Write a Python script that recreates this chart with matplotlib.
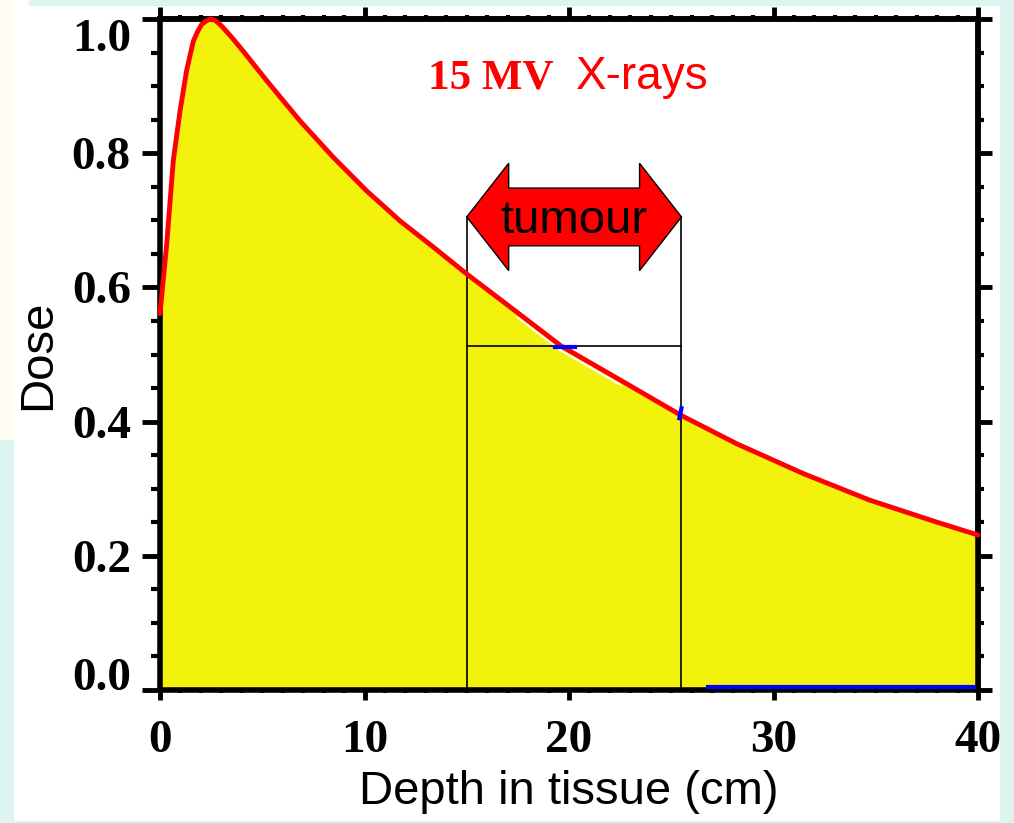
import matplotlib
matplotlib.use('Agg')
import matplotlib.pyplot as plt
from matplotlib.patches import Rectangle, Polygon
from matplotlib.ticker import MultipleLocator, FormatStrFormatter

plt.rcParams['font.family'] = ['Liberation Sans', 'DejaVu Sans']

# depth-dose curve
depth_cm = [0.0, 0.33, 0.65, 0.98, 1.3, 1.63, 1.85, 2.04, 2.25, 2.44, 2.7, 3.0, 3.5,
            4.07, 5.22, 6.85, 8.47, 10.1, 11.74, 13.37, 15.0, 17.5, 19.6, 22.5,
            25.5, 28.2, 31.5, 34.7, 38.0, 40.0]
dose = [0.561, 0.665, 0.789, 0.863, 0.923, 0.967, 0.982, 0.992, 0.997, 1.0, 0.998, 0.990, 0.973,
        0.952, 0.908, 0.848, 0.794, 0.744, 0.699, 0.660, 0.620, 0.562, 0.513, 0.462,
        0.409, 0.367, 0.322, 0.283, 0.250, 0.231]

tumour_start, tumour_end = 15.0, 25.5
tumour_top = 0.705
tumour_dose_level = 0.512
blue_span = [26.8, 39.8]
blue_marks_x = [[19.3, 20.3], [25.4, 25.5]]
blue_marks_y = [[0.511, 0.511], [0.405, 0.42]]

x_ticks = [0, 10, 20, 30, 40]
y_ticks = [0.0, 0.2, 0.4, 0.6, 0.8, 1.0]

W, H = 1014, 823
fig = plt.figure(figsize=(W / 100, H / 100), dpi=100, facecolor='#ddf4f1')


def px_rect(x0, y0, x1, y1, color):
    # rectangle given in picture pixels (origin top-left)
    fig.add_artist(Rectangle((x0 / W, 1 - y1 / H), (x1 - x0) / W, (y1 - y0) / H,
                             transform=fig.transFigure, facecolor=color,
                             edgecolor='none', zorder=-10))


px_rect(14, 6, 1000, 821, 'white')
px_rect(0, 0, 14, 440, '#fffcf2')
px_rect(14, 0, 29, 6, 'white')

ax = fig.add_axes([160 / W, 1 - 690 / H, (978 - 160) / W, (690 - 19) / H])
ax.set_facecolor('white')
ax.set_xlim(0, 40)
ax.set_ylim(0, 1.0)

ax.fill_between(depth_cm, 0, dose, color='#f2f20c', lw=0, zorder=1)

# thin white sliver under the curve across the tumour
seg = [i for i, d in enumerate(depth_cm) if tumour_start + 0.3 <= d <= tumour_end - 0.3]
ax.plot([depth_cm[i] for i in seg], [dose[i] - 0.007 for i in seg],
        color='white', lw=1.5, zorder=2)
ax.plot(depth_cm, dose, color='#ff0000', lw=3.5, clip_on=False, zorder=4,
        solid_capstyle='round')

# tumour region
for xv in (tumour_start, tumour_end):
    ax.plot([xv, xv], [0, tumour_top], color='black', lw=1.2, zorder=3)
ax.plot([tumour_start, tumour_end], [tumour_dose_level, tumour_dose_level],
        color='black', lw=1.2, zorder=3)
ax.plot(blue_span, [0.004, 0.004], color='#0000ff', lw=3, clip_on=False, zorder=6)
for bx, by in zip(blue_marks_x, blue_marks_y):
    ax.plot(bx, by, color='#0000ff', lw=3, zorder=4.5)

# double headed arrow
head_len = 2.05
head_half = 0.08
shaft_half = 0.043
xl, xr, yc = tumour_start, tumour_end, tumour_top
arrow_pts = [(xl, yc), (xl + head_len, yc + head_half), (xl + head_len, yc + shaft_half),
             (xr - head_len, yc + shaft_half), (xr - head_len, yc + head_half), (xr, yc),
             (xr - head_len, yc - head_half), (xr - head_len, yc - shaft_half),
             (xl + head_len, yc - shaft_half), (xl + head_len, yc - head_half)]
ax.add_patch(Polygon(arrow_pts, closed=True, facecolor='#ff0000', edgecolor='black',
                     lw=1, zorder=5))
ax.text((xl + xr) / 2, 0.6815, 'tumour', ha='center', va='baseline', fontsize=34,
        color='black', zorder=6)

ax.text(13.1, 0.896, '15 MV', fontsize=31, family='Liberation Serif', weight='bold',
        color='#ff0000', va='baseline')
ax.text(20.34, 0.896, 'X-rays', fontsize=33, color='#ff0000', va='baseline')

# axes styling
for sp in ax.spines.values():
    sp.set_linewidth(4)
ax.set_xticks(x_ticks)
ax.set_yticks(y_ticks)
ax.xaxis.set_minor_locator(MultipleLocator(1))
ax.yaxis.set_minor_locator(MultipleLocator(0.05))
ax.yaxis.set_major_formatter(FormatStrFormatter('%.1f'))
ax.tick_params(axis='y', which='major', direction='out', length=13, width=3.5, pad=8)
ax.tick_params(axis='y', which='minor', direction='out', length=6.5, width=3)
ax.tick_params(axis='x', which='major', direction='out', length=7.5, width=3.5, pad=14)
ax.tick_params(axis='x', which='minor', direction='out', length=2.5, width=3)

top = ax.secondary_xaxis('top')
top.xaxis.set_major_locator(MultipleLocator(10))
top.xaxis.set_minor_locator(MultipleLocator(1))
top.tick_params(which='major', direction='out', length=9, width=3.5, labeltop=False)
top.tick_params(which='minor', direction='out', length=3, width=3)
top.spines['top'].set_linewidth(4)

right = ax.secondary_yaxis('right')
right.yaxis.set_major_locator(MultipleLocator(0.2))
right.yaxis.set_minor_locator(MultipleLocator(0.05))
right.tick_params(which='major', direction='out', length=10, width=3.5, labelright=False)
right.tick_params(which='minor', direction='out', length=4.5, width=3)
right.spines['right'].set_linewidth(4)

ax.set_ylabel('Dose', fontsize=34, labelpad=8)
ax.set_xlabel('Depth in tissue (cm)', fontsize=34, labelpad=6)

fig.canvas.draw()
for lab in ax.get_xticklabels() + ax.get_yticklabels():
    lab.set_fontfamily('Liberation Serif')
    lab.set_fontweight('bold')
    lab.set_fontsize(34)
# end labels sit inside the frame, as in the source figure
ylabs = ax.get_yticklabels()
ylabs[-1].set_va('top')
ylabs[0].set_va('baseline')

fig.savefig('out.png', dpi=100, facecolor=fig.get_facecolor())
